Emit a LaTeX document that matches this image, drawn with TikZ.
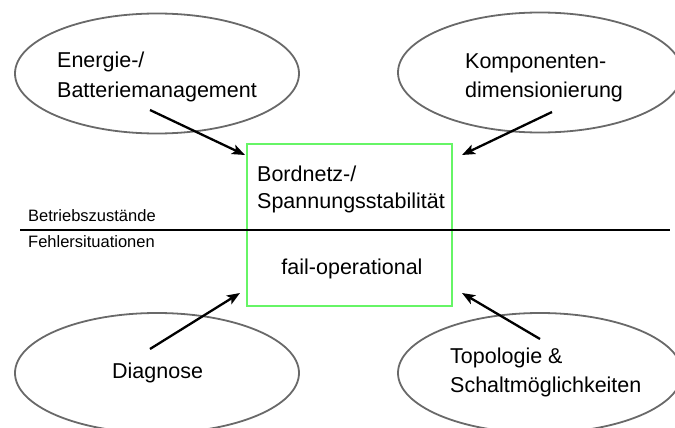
\documentclass[tikz,border=0pt]{standalone}
\usepackage{fontspec}
\setmainfont{Liberation Sans}
\usetikzlibrary{arrows.meta,shapes.geometric}
\definecolor{boxgreen}{RGB}{102,245,102}
\definecolor{ovalgray}{RGB}{105,105,105}

\begin{document}
\begin{tikzpicture}[x=1pt,y=-1pt,
  oval/.style={draw=ovalgray,line width=1.8pt,ellipse,minimum width=284pt,minimum height=120pt,inner sep=0pt},
  bigtext/.style={font=\fontsize{21.5}{29}\selectfont,align=left,anchor=base west,inner sep=0pt},
  smalltext/.style={font=\fontsize{16.5}{19}\selectfont,anchor=base west,inner sep=0pt},
  link/.style={line width=2.3pt,-{Stealth[length=13pt,width=10pt,inset=3pt]}}]
\useasboundingbox (0,0) rectangle (675,428);

% four influence ovals
\node[oval] (ovTL) at (157,73.5) {};
\node[oval] (ovTR) at (540,72.5) {};
\node[oval] (ovBL) at (157,373) {};
\node[oval] (ovBR) at (540,373) {};

% central box
\node[draw=boxgreen,line width=2.5pt,minimum width=205pt,minimum height=162pt,inner sep=0pt] (core) at (349.5,225) {};

% separator between operating states and fault situations
\coordinate (sepL) at (20,230);
\coordinate (sepR) at (670,230);
\draw[line width=2.2pt] (sepL) -- (sepR);

% labels (multi-line nodes are anchored at the baseline of their last line)
\node[bigtext] (tTL) at (57,97) {Energie-/\\Batteriemanagement};
\node[bigtext] (tTR) at (465,98) {Komponenten-\\dimensionierung};
\node[bigtext] (tBL) at (112,378) {Diagnose};
\node[bigtext] (tBR) at (450,392) {Topologie \&\\Schaltmöglichkeiten};
\node[bigtext,font=\fontsize{21.5}{27}\selectfont] (tCore) at (257,208) {Bordnetz-/\\Spannungsstabilität};
\node[bigtext,anchor=base] (tFail) at (352,274) {fail-operational};
\node[smalltext] (tUp) at (28,221) {Betriebszustände};
\node[smalltext] (tDown) at (28,247) {Fehlersituationen};

% arrows towards the box corners
\coordinate (aTLs) at (150,110); \coordinate (aTLe) at (245,155);
\coordinate (aTRs) at (552,112); \coordinate (aTRe) at (462,155);
\coordinate (aBLs) at (150,349); \coordinate (aBLe) at (240,293);
\coordinate (aBRs) at (540,339); \coordinate (aBRe) at (462,293);
\draw[link] (aTLs) -- (aTLe);
\draw[link] (aTRs) -- (aTRe);
\draw[link] (aBLs) -- (aBLe);
\draw[link] (aBRs) -- (aBRe);
\end{tikzpicture}
\end{document}
